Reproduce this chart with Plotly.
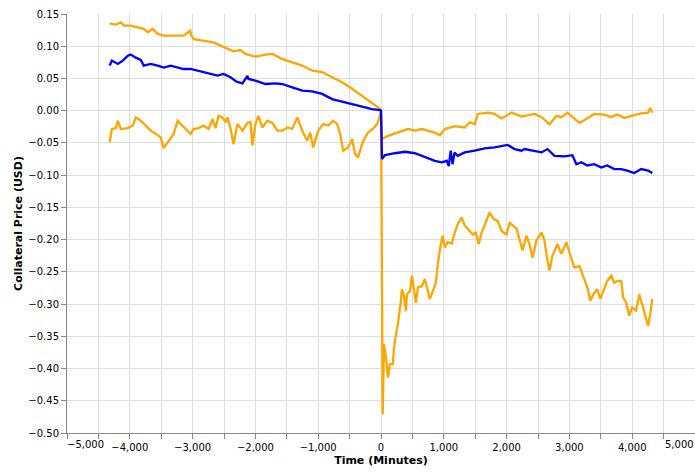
import plotly.graph_objects as go

# ---- data ----
upper_x = [-4320, -4222, -4143, -4095, -3984, -3873, -3778, -3714, -3635, -3556, -3460, -3302, -3143,
           -3040, -3020, -2984, -2825, -2667, -2556, -2444, -2349, -2286, -2238, -2159, -2000, -1841,
           -1730, -1571, -1413, -1254, -1095, -937, -778, -619, -460, -302, -143, -16, 0,
           16, 111, 222, 333, 429, 540, 651, 746, 857, 937, 1016, 1175, 1333, 1413, 1492, 1540, 1698,
           1810, 1921, 2079, 2127, 2238, 2286, 2444, 2556, 2683, 2794, 2873, 2968, 3048, 3159, 3270,
           3397, 3556, 3667, 3762, 3873, 3984, 4143, 4254, 4286, 4320]
upper_y = [0.1356, 0.1336, 0.137, 0.132, 0.132, 0.129, 0.127, 0.1216, 0.127, 0.119, 0.1165, 0.1165, 0.1165,
           0.124, 0.117, 0.111, 0.109, 0.106, 0.101, 0.0965, 0.092, 0.093, 0.094, 0.088, 0.084, 0.087,
           0.088, 0.080, 0.075, 0.070, 0.062, 0.060, 0.052, 0.044, 0.034, 0.023, 0.013, 0.003, 0.0,
           -0.044, -0.039, -0.035, -0.031, -0.0285, -0.031, -0.0285, -0.031, -0.034, -0.038, -0.0285,
           -0.024, -0.026, -0.018, -0.021, -0.005, -0.003, -0.005, -0.012, -0.003, -0.005, -0.009,
           -0.008, -0.005, -0.010, -0.021, -0.008, -0.010, -0.003, -0.010, -0.019, -0.013, -0.005,
           -0.006, -0.010, -0.006, -0.0115, -0.008, -0.004, -0.003, 0.004, -0.003]

mean_x = [-4320, -4286, -4190, -4111, -4032, -3984, -3905, -3825, -3778, -3667, -3556, -3460, -3349,
          -3238, -3143, -3032, -2921, -2825, -2714, -2603, -2508, -2397, -2300, -2206, -2127, -2111,
          -2000, -1841, -1683, -1571, -1413, -1254, -1095, -937, -778, -619, -460, -302, -143, -16, 0,
          16, 63, 222, 381, 540, 651, 746, 857, 968, 1048, 1080, 1110, 1140, 1170, 1222, 1333, 1492,
          1651, 1810, 1921, 2016, 2127, 2238, 2286, 2444, 2556, 2651, 2762, 2921, 3048, 3111, 3190,
          3286, 3397, 3508, 3603, 3714, 3825, 3921, 4032, 4143, 4254, 4320]
mean_y = [0.070, 0.0777, 0.0725, 0.0777, 0.0854, 0.087, 0.0823, 0.0787, 0.070, 0.0725, 0.070, 0.067,
          0.070, 0.067, 0.0647, 0.0647, 0.062, 0.0595, 0.057, 0.0544, 0.057, 0.0518, 0.045, 0.0424,
          0.054, 0.0492, 0.0466, 0.0414, 0.0424, 0.0414, 0.0362, 0.031, 0.030, 0.026, 0.018, 0.014,
          0.0104, 0.006, 0.0026, 0.001, 0.0,
          -0.075, -0.069, -0.066, -0.0637, -0.066, -0.070, -0.0725, -0.0777, -0.080, -0.0777, -0.086,
          -0.062, -0.083, -0.065, -0.070, -0.0647, -0.062, -0.0585, -0.057, -0.0554, -0.053, -0.0595,
          -0.062, -0.0595, -0.062, -0.0647, -0.0595, -0.070, -0.071, -0.069, -0.083, -0.080, -0.085,
          -0.083, -0.088, -0.085, -0.0906, -0.0906, -0.093, -0.0968, -0.0906, -0.093, -0.0968]

lower_x = [-4320, -4286, -4222, -4190, -4143, -4032, -3952, -3905, -3825, -3746, -3667, -3587, -3508,
           -3460, -3381, -3302, -3238, -3190, -3111, -3032, -2984, -2905, -2825, -2746, -2683, -2635,
           -2587, -2524, -2476, -2444, -2397, -2349, -2286, -2238, -2206, -2127, -2079, -2048, -2000,
           -1952, -1889, -1810, -1730, -1651, -1571, -1492, -1413, -1333, -1254, -1175, -1127, -1079,
           -1000, -921, -841, -762, -698, -651, -603, -524, -460, -413, -365, -302, -254, -206, -127,
           -63, -32, 0,
           16, 27, 48, 79, 111, 143, 190, 206, 238, 270, 317, 333, 365, 397, 413, 460, 492, 524, 556,
           587, 651, 698, 730, 778, 825, 873, 905, 952, 984, 1016, 1063, 1127, 1175, 1222, 1286, 1333,
           1381, 1460, 1508, 1556, 1603, 1683, 1730, 1794, 1857, 1921, 2000, 2048, 2095, 2159, 2206,
           2254, 2317, 2365, 2413, 2476, 2556, 2603, 2651, 2683, 2730, 2810, 2873, 2952, 3000, 3079,
           3159, 3238, 3286, 3333, 3381, 3444, 3492, 3540, 3603, 3667, 3714, 3762, 3825, 3857, 3905,
           3952, 4000, 4063, 4111, 4143, 4190, 4254, 4286, 4320]
lower_y = [-0.049, -0.0285, -0.027, -0.0155, -0.0285, -0.027, -0.023, -0.0104, -0.0155, -0.023, -0.031,
           -0.036, -0.0414, -0.058, -0.046, -0.036, -0.0155, -0.0207, -0.0285, -0.036, -0.0285, -0.027,
           -0.023, -0.0285, -0.013, -0.027, -0.008, -0.0104, -0.018, -0.0104, -0.027, -0.052, -0.0207,
           -0.027, -0.031, -0.019, -0.0176, -0.054, -0.0207, -0.008, -0.026, -0.0155, -0.019, -0.031,
           -0.031, -0.026, -0.028, -0.0104, -0.031, -0.0466, -0.034, -0.057, -0.031, -0.0207, -0.023,
           -0.0155, -0.0207, -0.036, -0.062, -0.057, -0.044, -0.067, -0.0725, -0.052, -0.0414, -0.034,
           -0.028, -0.0207, -0.013, 0.0,
           -0.471, -0.471, -0.362, -0.383, -0.414, -0.393, -0.393, -0.368, -0.347, -0.331, -0.295,
           -0.277, -0.287, -0.311, -0.285, -0.280, -0.256, -0.274, -0.298, -0.274, -0.272, -0.261,
           -0.274, -0.292, -0.280, -0.267, -0.238, -0.207, -0.194, -0.212, -0.204, -0.206, -0.189,
           -0.176, -0.166, -0.178, -0.183, -0.192, -0.189, -0.207, -0.189, -0.171, -0.158, -0.168,
           -0.171, -0.187, -0.192, -0.173, -0.178, -0.183, -0.199, -0.217, -0.194, -0.207, -0.228,
           -0.201, -0.189, -0.201, -0.233, -0.248, -0.225, -0.207, -0.222, -0.204, -0.220, -0.243,
           -0.241, -0.261, -0.274, -0.295, -0.285, -0.277, -0.292, -0.280, -0.264, -0.256, -0.267,
           -0.264, -0.264, -0.290, -0.298, -0.318, -0.305, -0.310, -0.285, -0.295, -0.313, -0.334,
           -0.316, -0.292]

x_tick_vals = [-5000, -4000, -3000, -2000, -1000, 0, 1000, 2000, 3000, 4000, 5000]
x_tick_text = ["", "\u22124,000", "\u22123,000", "\u22122,000", "\u22121,000", "0",
               "1,000", "2,000", "3,000", "4,000", ""]
x_edge_labels = ["\u22125,000", "5,000"]
x_title = "Time (Minutes)"
y_title = "Collateral Price (USD)"

ORANGE = "#FFA500"
BLUE = "#0000FF"
FONT = "DejaVu Sans"
LW = 2.3

fig = go.Figure()
fig.add_trace(go.Scatter(x=upper_x, y=upper_y, mode="lines", line=dict(color=ORANGE, width=LW), name="Upper"))
fig.add_trace(go.Scatter(x=lower_x, y=lower_y, mode="lines", line=dict(color=ORANGE, width=LW), name="Lower"))
fig.add_trace(go.Scatter(x=mean_x, y=mean_y, mode="lines", line=dict(color=BLUE, width=LW), name="Mean"))

fig.update_layout(
    width=695, height=473,
    margin=dict(l=67, r=0, t=14, b=40, autoexpand=False),
    paper_bgcolor="white", plot_bgcolor="white",
    showlegend=False,
    font=dict(family=FONT, size=10, color="#000"),
    annotations=[
        dict(x=-5000, y=0, xref="x", yref="paper", text=x_edge_labels[0], showarrow=False,
             xanchor="left", yanchor="top", yshift=-4, xshift=-2, font=dict(family=FONT, size=10, color="#000")),
        dict(x=5000, y=0, xref="x", yref="paper", text=x_edge_labels[1], showarrow=False,
             xanchor="right", yanchor="top", yshift=-4, xshift=1, font=dict(family=FONT, size=10, color="#000")),
    ],
)
fig.update_xaxes(
    range=[-5000, 5000], tickmode="array", tickvals=x_tick_vals, ticktext=x_tick_text, tickangle=0,
    automargin=False,
    showgrid=True, gridcolor="#ddd", gridwidth=1, zeroline=False,
    showline=True, linecolor="#888", linewidth=1,
    ticks="outside", ticklen=5, tickcolor="#888",
    minor=dict(tickvals=[v + 500 for v in x_tick_vals[:-1]], showgrid=True, gridcolor="#ddd",
               ticks="outside", ticklen=5, tickcolor="#888"),
    title=dict(text="<b>" + x_title + "</b>", font=dict(family=FONT, size=11, color="#000"), standoff=4),
)
fig.update_yaxes(
    range=[-0.5, 0.15], dtick=0.05, tick0=0, tickformat=".2f",
    automargin=False,
    showgrid=True, gridcolor="#ddd", gridwidth=1, zeroline=False,
    showline=True, linecolor="#888", linewidth=1,
    ticks="outside", ticklen=5, tickcolor="#888",
    title=dict(text="<b>" + y_title + "</b>", font=dict(family=FONT, size=11, color="#000"), standoff=3),
)

fig.write_html(
    "out.html",
    config={"displayModeBar": False},
    post_script="document.body.style.margin='0';document.body.style.overflow='hidden';",
)
